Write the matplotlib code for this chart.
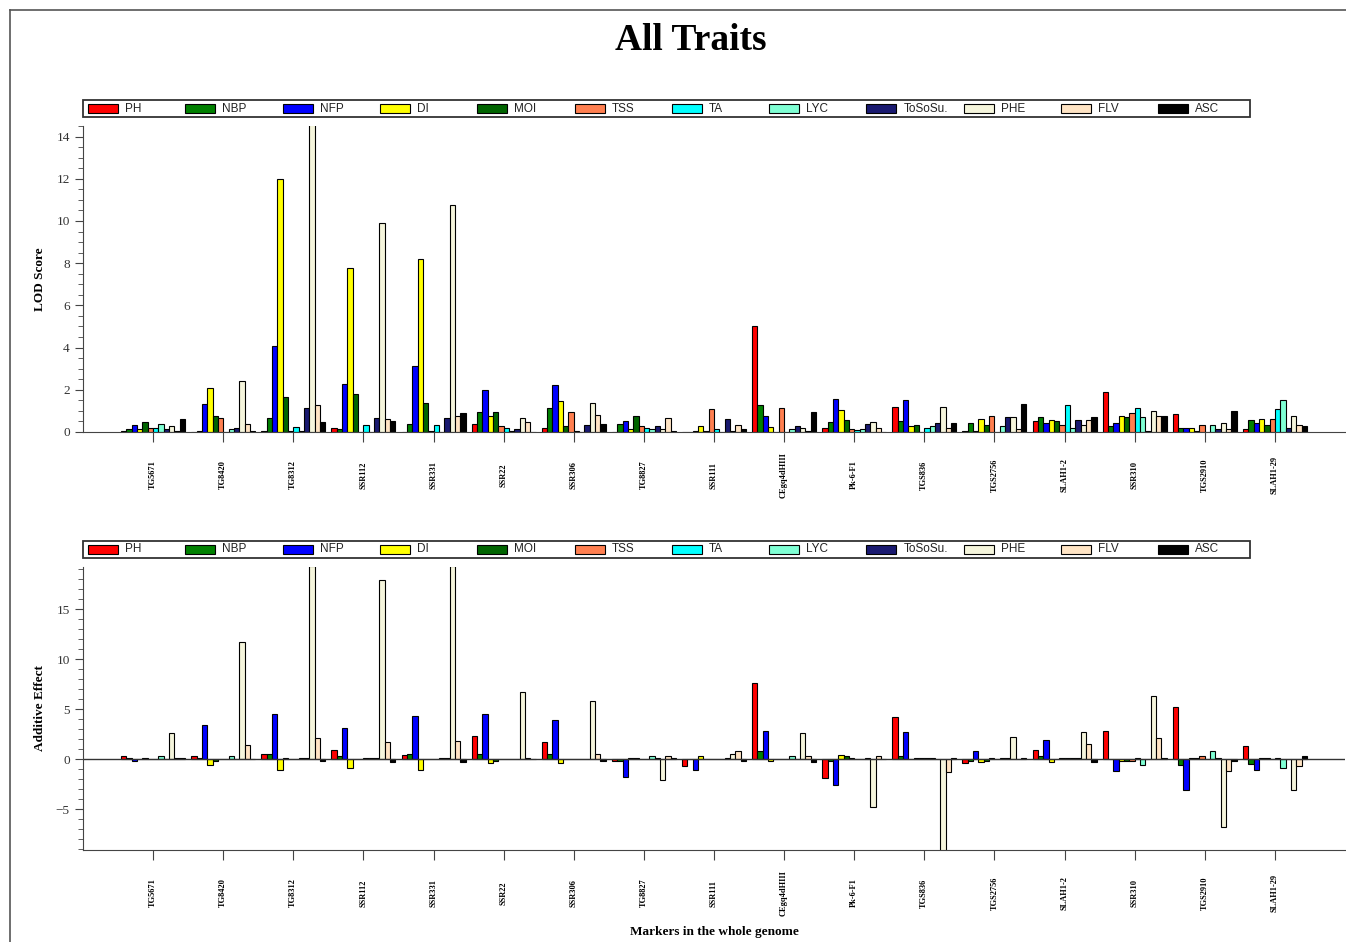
import numpy as np
import matplotlib
matplotlib.use("Agg")
import matplotlib.pyplot as plt
from matplotlib.ticker import MultipleLocator
from matplotlib.lines import Line2D
from matplotlib.patches import Rectangle

markers = ["TG5671", "TG8420", "TG8312", "SSR112", "SSR331", "SSR22", "SSR306",
           "TG8827", "SSR111", "CEgq4dHIII", "Pk-6-F1", "TGS836", "TGS2756",
           "SLAH1-2", "SSR310", "TGS2910", "SLAH1-29"]
traits = ["PH", "NBP", "NFP", "DI", "MOI", "TSS", "TA", "LYC", "ToSoSu.", "PHE", "FLV", "ASC"]
colors = ["#FF0000", "#008000", "#0000FF", "#FFFF00", "#006400", "#FF7F50",
          "#00FFFF", "#7FFFD4", "#191970", "#F5F5DC", "#FFE4C4", "#000000"]

# LOD score, one row per marker, columns in trait order
lod = [
    [0.05, 0.13, 0.35, 0.13, 0.47, 0.19, 0.19, 0.39, 0.13, 0.27, 0.06, 0.63],
    [0.0, 0.05, 1.32, 2.08, 0.75, 0.68, 0.0, 0.13, 0.19, 2.42, 0.39, 0.06],
    [0.05, 0.68, 4.06, 12.0, 1.65, 0.05, 0.24, 0.05, 1.16, 16.0, 1.29, 0.47],
    [0.19, 0.13, 2.28, 7.78, 1.79, 0.0, 0.31, 0.0, 0.68, 9.9, 0.6, 0.53],
    [0.0, 0.39, 3.11, 8.22, 1.38, 0.05, 0.31, 0.0, 0.68, 10.74, 0.74, 0.9],
    [0.39, 0.97, 2.0, 0.74, 0.97, 0.27, 0.19, 0.05, 0.13, 0.68, 0.47, 0.0],
    [0.19, 1.16, 2.23, 1.45, 0.27, 0.94, 0.05, 0.0, 0.35, 1.38, 0.82, 0.39],
    [0.0, 0.39, 0.53, 0.13, 0.75, 0.27, 0.19, 0.13, 0.27, 0.13, 0.68, 0.06],
    [0.0, 0.0, 0.05, 0.27, 0.05, 1.1, 0.13, 0.0, 0.61, 0.06, 0.35, 0.13],
    [5.0, 1.29, 0.74, 0.24, 0.0, 1.16, 0.0, 0.13, 0.27, 0.19, 0.05, 0.97],
    [0.19, 0.47, 1.57, 1.02, 0.55, 0.16, 0.1, 0.16, 0.39, 0.47, 0.19, 0.0],
    [1.2, 0.5, 1.54, 0.27, 0.35, 0.0, 0.19, 0.27, 0.42, 1.2, 0.19, 0.42],
    [0.05, 0.42, 0.05, 0.63, 0.35, 0.77, 0.0, 0.27, 0.69, 0.69, 0.16, 1.35],
    [0.5, 0.69, 0.42, 0.57, 0.5, 0.35, 1.26, 0.19, 0.57, 0.35, 0.57, 0.69],
    [1.9, 0.27, 0.42, 0.77, 0.69, 0.91, 1.13, 0.69, 0.05, 1.0, 0.77, 0.77],
    [0.85, 0.19, 0.19, 0.19, 0.06, 0.35, 0.0, 0.35, 0.16, 0.42, 0.16, 1.0],
    [0.16, 0.57, 0.42, 0.63, 0.35, 0.63, 1.07, 1.54, 0.19, 0.77, 0.35, 0.27],
]

# additive effect
add = [
    [0.33, 0.15, -0.17, 0.0, 0.15, 0.0, 0.0, 0.33, 0.0, 2.57, 0.15, 0.15],
    [0.33, 0.15, 3.43, -0.6, -0.17, 0.0, 0.0, 0.33, 0.0, 11.73, 1.4, 0.0],
    [0.5, 0.5, 4.5, -1.07, 0.15, 0.0, 0.0, 0.1, 0.15, 19.3, 2.1, -0.17],
    [0.93, 0.33, 3.1, -0.9, 0.0, 0.0, 0.1, 0.15, 0.15, 17.93, 1.67, -0.33],
    [0.43, 0.5, 4.33, -1.07, 0.0, 0.0, 0.0, 0.15, 0.15, 19.3, 1.83, -0.33],
    [2.27, 0.5, 4.5, -0.4, -0.17, 0.0, 0.0, 0.0, 0.0, 6.73, 0.15, 0.0],
    [1.67, 0.5, 3.9, -0.43, 0.0, 0.0, 0.0, 0.0, 0.0, 5.83, 0.5, -0.17],
    [-0.15, -0.15, -1.77, 0.15, 0.15, 0.0, 0.0, 0.33, 0.15, -2.07, 0.33, 0.15],
    [-0.73, 0.0, -1.07, 0.33, 0.0, 0.0, 0.0, 0.0, 0.15, 0.5, 0.77, -0.15],
    [7.6, 0.77, 2.83, -0.15, 0.0, 0.0, 0.0, 0.33, 0.0, 2.57, 0.33, -0.27],
    [-1.93, -0.23, -2.57, 0.43, 0.27, 0.15, 0.0, 0.0, 0.15, -4.83, 0.33, 0.0],
    [4.17, 0.27, 2.67, 0.0, 0.15, 0.15, 0.15, 0.15, 0.0, -9.5, -1.33, 0.15],
    [-0.43, -0.17, 0.77, -0.27, -0.15, 0.15, 0.0, 0.15, 0.15, 2.23, 0.0, 0.15],
    [0.9, 0.27, 1.93, -0.27, 0.0, 0.15, 0.15, 0.15, 0.15, 2.67, 1.5, -0.27],
    [2.83, 0.0, -1.17, -0.23, -0.15, -0.15, 0.15, -0.6, 0.0, 6.27, 2.1, 0.15],
    [5.17, -0.6, -3.1, 0.15, 0.15, 0.33, 0.0, 0.77, 0.15, -6.83, -1.23, -0.15],
    [1.33, -0.5, -1.07, 0.15, 0.15, 0.0, 0.15, -0.9, 0.0, -3.1, -0.73, 0.33],
]

serif = ["Liberation Serif", "DejaVu Serif"]
sans = ["Liberation Sans Narrow", "Liberation Sans", "DejaVu Sans"]

fig = plt.figure(figsize=(13.46, 9.42), dpi=100)
W, H = 1346.0, 942.0

# thin frame round the whole picture
fig.add_artist(Line2D([10 / W, 10 / W], [0, 1 - 10 / H], transform=fig.transFigure, color="#555555", lw=1.2))
fig.add_artist(Line2D([10 / W, 1], [1 - 10 / H, 1 - 10 / H], transform=fig.transFigure, color="#555555", lw=1.2))

fig.text(0.513, 1 - 40 / H, "All Traits", ha="center", va="center",
         fontsize=27, fontweight="bold", family=serif)

x = np.arange(len(markers))
bw = 0.076


def legend_row(top):
    # boxed legend row with evenly spaced entries, like the original
    tr = fig.transFigure
    fig.add_artist(Rectangle((83 / W, 1 - (top + 17) / H), 1167 / W, 17 / H, transform=tr,
                             fill=False, edgecolor="#333333", lw=1.3))
    step = 97.3
    for k, t in enumerate(traits):
        x0 = 88 + step * k
        fig.add_artist(Rectangle((x0 / W, 1 - (top + 13) / H), 30 / W, 9 / H, transform=tr,
                                 facecolor=colors[k], edgecolor="black", lw=0.8))
        fig.text((x0 + 37) / W, 1 - (top + 8.5) / H, t, ha="left", va="center",
                 fontsize=8.5, family=sans, color="#222222")


def draw(ax, data, ylim, major, minor, ylabel):
    data = np.array(data)
    for k, t in enumerate(traits):
        ax.bar(x + (k - 5.5) * bw, data[:, k], width=bw, color=colors[k],
               edgecolor="black", linewidth=0.8, label=t)
    ax.set_xlim(-1, 17)
    ax.set_ylim(*ylim)
    ax.spines["top"].set_visible(False)
    ax.spines["right"].set_visible(False)
    ax.spines["left"].set_color("#444444")
    ax.spines["bottom"].set_color("#444444")
    ax.yaxis.set_major_locator(MultipleLocator(major))
    ax.yaxis.set_minor_locator(MultipleLocator(minor))
    ax.set_xticks(x)
    ax.set_xticklabels(markers, rotation=90, fontsize=6, fontweight="bold",
                       family=serif, va="center")
    ax.tick_params(axis="x", length=7, pad=24, color="#444444")
    ax.tick_params(axis="y", which="major", length=6, labelsize=9.5,
                   labelcolor="#333333", color="#444444")
    ax.tick_params(axis="y", which="minor", length=3.5, color="#444444")
    for lab in ax.get_yticklabels():
        lab.set_family(serif)
    ax.set_ylabel(ylabel, fontsize=9.5, fontweight="bold", family=serif)
    ax.yaxis.set_label_coords(-0.029, 0.5)
    return ax


ax1 = fig.add_axes([83 / W, 1 - 432 / H, 1262 / W, 306 / H])
draw(ax1, lod, (0, 14.5), 2, 0.5, "LOD Score")
legend_row(100)

ax2 = fig.add_axes([83 / W, 1 - 850 / H, 1262 / W, 283 / H])
draw(ax2, add, (-9.1, 19.2), 5, 1, "Additive Effect")
ax2.axhline(0, color="#333333", lw=1.0)
ax2.set_xlabel("Markers in the whole genome", fontsize=9.5, fontweight="bold", family=serif)
ax2.xaxis.set_label_coords(0.5, -0.27)
legend_row(541)

fig.savefig("out.png", dpi=100)
